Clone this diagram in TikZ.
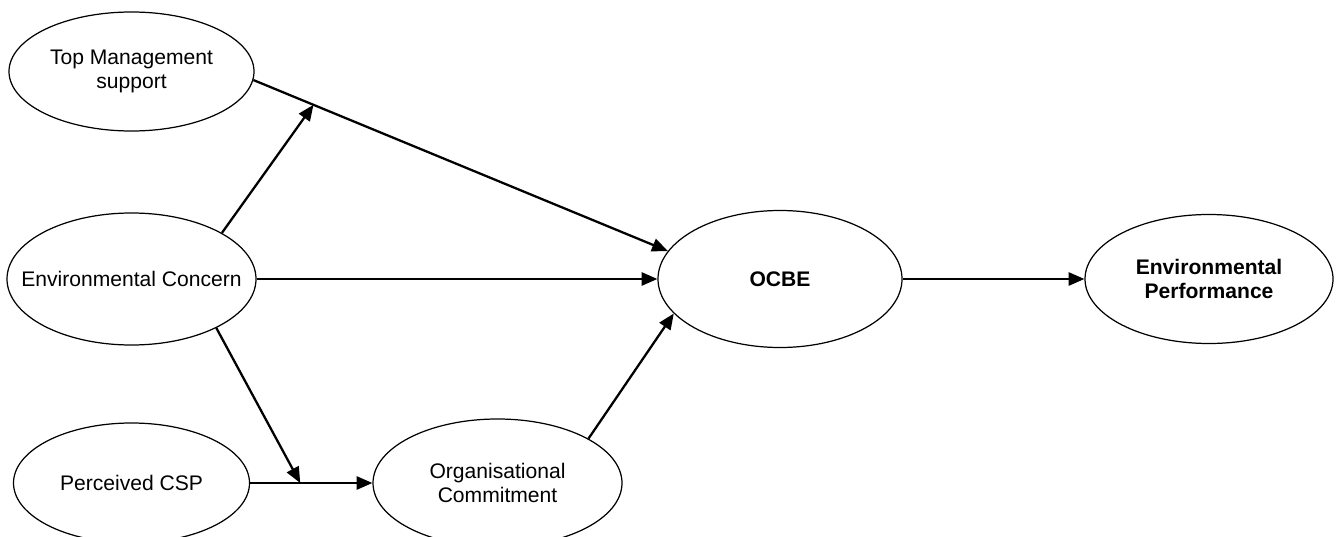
\documentclass[tikz,border=0pt]{standalone}
\usepackage{fontspec}
\setmainfont{Liberation Sans}
\usetikzlibrary{shapes.geometric,arrows.meta,positioning}

\begin{document}
\begin{tikzpicture}[
  construct/.style={ellipse, draw, line width=0.7pt, inner sep=0pt, align=center,
    font=\fontsize{12}{14}\selectfont, minimum width=4.9cm, minimum height=2.5cm},
  path/.style={-{Triangle[length=9pt,width=7.5pt]}, line width=1.3pt},
  node distance=2cm
]
\useasboundingbox (0,0) rectangle (26.76,-10.74);

\node[construct, minimum width=4.98cm, minimum height=2.64cm, inner xsep=-14pt] (ec) at (2.63,-5.58) {Environmental Concern};
\node[construct, minimum height=2.38cm, above of=ec, node distance=4.15cm] (tm) {Top Management\\support};
\node[construct, minimum width=4.72cm, minimum height=2.4cm, below of=ec, node distance=4.08cm] (pc) {Perceived CSP};
\node[construct, minimum width=4.98cm, minimum height=2.56cm, right of=pc, node distance=7.32cm] (oc) {Organisational\\Commitment};
\node[construct, minimum width=4.88cm, minimum height=2.74cm, font=\fontsize{12}{14}\selectfont\bfseries, right of=ec, node distance=12.97cm] (ocbe) {OCBE};
\node[construct, minimum width=4.96cm, minimum height=2.58cm, font=\fontsize{12}{14}\selectfont\bfseries, right of=ocbe, node distance=8.58cm] (ep) {Environmental\\Performance};

\draw[path] (tm.-4.5) -- coordinate[pos=0.145] (tmsplit) (ocbe.166);
\draw[path] (ec.27) -- (tmsplit);
\draw[path] (ec) -- (ocbe);
\draw[path] (pc) -- coordinate[pos=0.41] (pcsplit) (oc);
\draw[path] (ec.-30) -- (pcsplit);
\draw[path] (oc.26) -- (ocbe.-162);
\draw[path] (ocbe) -- (ep);
\end{tikzpicture}
\end{document}
